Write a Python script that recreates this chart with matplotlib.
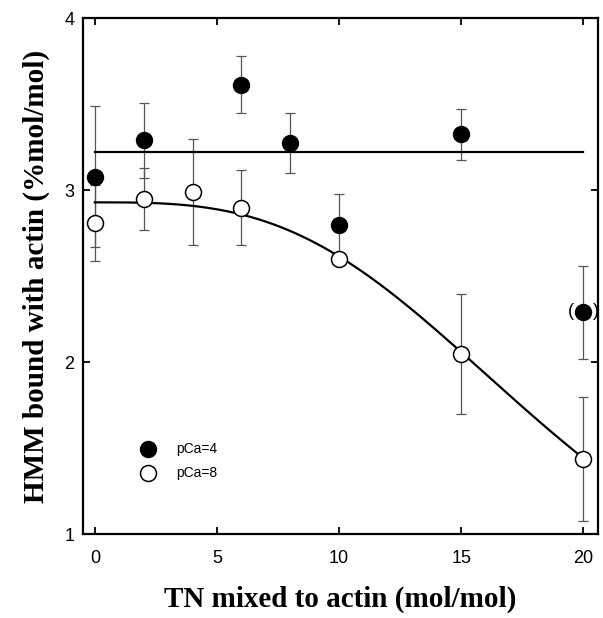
import matplotlib
matplotlib.use("Agg")
import matplotlib.pyplot as plt
import numpy as np

# Data
x_ca4 = [0, 2, 6, 8, 10, 15, 20]
y_ca4 = [3.08, 3.29, 3.615, 3.275, 2.80, 3.325, 2.29]
e_ca4 = [0.41, 0.22, 0.165, 0.175, 0.18, 0.15, 0.27]

x_ca8 = [0, 2, 4, 6, 10, 15, 20]
y_ca8 = [2.81, 2.95, 2.99, 2.90, 2.60, 2.05, 1.44]
e_ca8 = [0.22, 0.18, 0.31, 0.22, 0.0, 0.35, 0.36]

# horizontal mean line for pCa=4
mean_ca4 = 3.224
mean_x = [0, 20]

# Hill fit parameters for pCa=8
fit_top = 2.93
fit_k = 19.8
fit_n = 3.1

xticks = [0, 5, 10, 15, 20]
yticks = [1, 2, 3, 4]

fig = plt.figure(figsize=(6.03, 6.18), dpi=100)
ax = fig.add_axes([0.137, 0.1354, 0.9917 - 0.137, 0.9704 - 0.1354])

ax.errorbar(x_ca8, y_ca8, yerr=e_ca8, fmt='none', ecolor='#555555',
            elinewidth=0.9, capsize=3.5, capthick=0.9, zorder=2)
ax.errorbar(x_ca4, y_ca4, yerr=e_ca4, fmt='none', ecolor='#555555',
            elinewidth=0.9, capsize=3.5, capthick=0.9, zorder=2)

ax.plot(mean_x, [mean_ca4, mean_ca4], color='black', lw=1.6, zorder=3)
xf = np.linspace(0, 20, 200)
yf = fit_top / (1 + (xf / fit_k) ** fit_n)
ax.plot(xf, yf, color='black', lw=1.6, zorder=3)

ax.plot(x_ca4, y_ca4, 'o', ms=11.5, mfc='black', mec='black', zorder=4)
ax.plot(x_ca8, y_ca8, 'o', ms=11.5, mfc='white', mec='black', mew=1.1, zorder=4)

# parentheses around the last pCa=4 point
ax.annotate('(', (x_ca4[-1], y_ca4[-1]), xytext=(-9, 0.5), textcoords='offset points',
            ha='center', va='center', fontsize=13, family='Liberation Sans', zorder=5)
ax.annotate(')', (x_ca4[-1], y_ca4[-1]), xytext=(9, 0.5), textcoords='offset points',
            ha='center', va='center', fontsize=13, family='Liberation Sans', zorder=5)

# legend
ax.plot([2.16], [1.494], 'o', ms=11.5, mfc='black', mec='black')
ax.plot([2.16], [1.354], 'o', ms=11.5, mfc='white', mec='black', mew=1.1)
ax.text(3.35, 1.494, 'pCa=4', fontsize=10, family='Liberation Sans', va='center')
ax.text(3.35, 1.354, 'pCa=8', fontsize=10, family='Liberation Sans', va='center')

ax.set_xlim(-0.5, 20.6)
ax.set_ylim(1, 4)
ax.set_xticks(xticks)
ax.set_yticks(yticks)
ax.tick_params(direction='in', length=5, width=1.3, top=True, right=True,
               labelsize=13, labelfontfamily='Liberation Sans')
ax.tick_params(axis='x', pad=11)
ax.tick_params(axis='y', pad=6)
for s in ax.spines.values():
    s.set_linewidth(1.6)

ax.set_xlabel('TN mixed to actin (mol/mol)', fontsize=21, fontweight='bold',
              family='Liberation Serif', labelpad=14)
ax.set_ylabel('HMM bound with actin (%mol/mol)', fontsize=21, fontweight='bold',
              family='Liberation Serif', labelpad=10)

fig.savefig('out.png', dpi=100)
